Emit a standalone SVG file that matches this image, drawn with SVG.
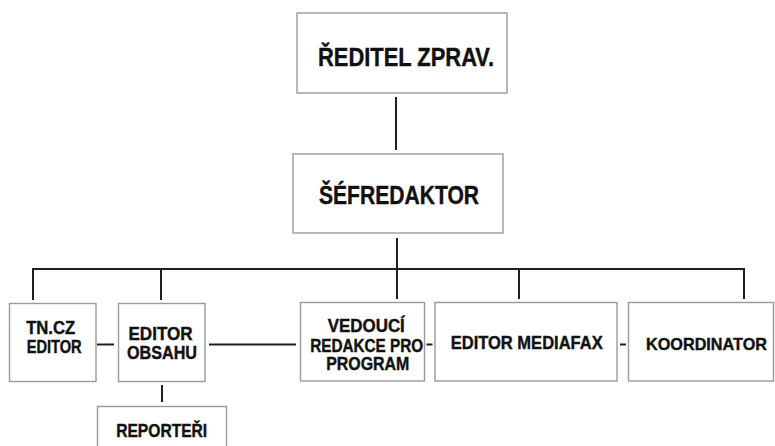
<svg xmlns="http://www.w3.org/2000/svg" width="775" height="446" viewBox="0 0 775 446">
<style>
.box{fill:#fff;stroke:#9a9a9a;stroke-width:1.4}
.t{font-family:"Liberation Sans",Arial,sans-serif;font-weight:bold;fill:#111;stroke:#111;stroke-width:0.4;text-anchor:middle}
.s{font-size:17.5px}
.big{font-size:26px}
.ln{stroke:#231f20;stroke-width:2;fill:none}
</style>
<rect width="775" height="446" fill="#fff"/>
<g id="connectors" class="ln">
<line x1="396" y1="97" x2="396" y2="150"/>
<line x1="397" y1="238" x2="397" y2="269"/>
<line x1="33" y1="269" x2="745" y2="269"/>
<line x1="33" y1="268" x2="33" y2="300"/>
<line x1="161" y1="268" x2="161" y2="300"/>
<line x1="397" y1="268" x2="397" y2="299"/>
<line x1="519" y1="268" x2="519" y2="299"/>
<line x1="744" y1="268" x2="744" y2="299"/>
<line x1="97" y1="344.5" x2="114" y2="344.5"/>
<line x1="209" y1="344.5" x2="296" y2="344.5"/>
<line x1="426.5" y1="344.5" x2="432.5" y2="344.5"/>
<line x1="620" y1="344.5" x2="626" y2="344.5"/>
<line x1="162" y1="385" x2="162" y2="402"/>
</g>
<g id="reditel">
<rect class="box" x="297" y="13" width="210" height="80"/>
<text class="t big" x="406" y="65.5" textLength="176" lengthAdjust="spacingAndGlyphs">ŘEDITEL ZPRAV.</text>
</g>
<g id="sefredaktor">
<rect class="box" x="293" y="154" width="210" height="79"/>
<text class="t big" x="399" y="203.5" textLength="160" lengthAdjust="spacingAndGlyphs">ŠÉFREDAKTOR</text>
</g>
<g id="tncz">
<rect class="box" x="9.5" y="303.5" width="86.5" height="78"/>
<text class="t s" x="50.7" y="334.3" textLength="49" lengthAdjust="spacingAndGlyphs">TN.CZ</text>
<text class="t s" x="54.2" y="353" textLength="55" lengthAdjust="spacingAndGlyphs">EDITOR</text>
</g>
<g id="editor-obsahu">
<rect class="box" x="118.5" y="303.5" width="86.5" height="78"/>
<text class="t s" x="160.5" y="339.5" textLength="64" lengthAdjust="spacingAndGlyphs">EDITOR</text>
<text class="t s" x="162" y="359" textLength="70" lengthAdjust="spacingAndGlyphs">OBSAHU</text>
</g>
<g id="vedouci">
<rect class="box" x="300.5" y="302.5" width="124" height="78.5"/>
<text class="t s" x="366.3" y="332" textLength="77" lengthAdjust="spacingAndGlyphs">VEDOUCÍ</text>
<text class="t s" x="366.7" y="351.8" textLength="113" lengthAdjust="spacingAndGlyphs">REDAKCE PRO</text>
<text class="t s" x="367.7" y="370.2" textLength="83" lengthAdjust="spacingAndGlyphs">PROGRAM</text>
</g>
<g id="mediafax">
<rect class="box" x="435" y="302.5" width="182" height="78.5"/>
<text class="t s" x="526.7" y="348.5" textLength="152" lengthAdjust="spacingAndGlyphs">EDITOR MEDIAFAX</text>
</g>
<g id="koordinator">
<rect class="box" x="628.5" y="302.5" width="145" height="78.5"/>
<text class="t" style="font-size:16.6px" x="706.5" y="349.5" textLength="121" lengthAdjust="spacingAndGlyphs">KOORDINATOR</text>
</g>
<g id="reporteri">
<rect class="box" x="97.5" y="406.5" width="129" height="50"/>
<text class="t s" x="161.7" y="437" textLength="91" lengthAdjust="spacingAndGlyphs">REPORTEŘI</text>
</g>
</svg>
